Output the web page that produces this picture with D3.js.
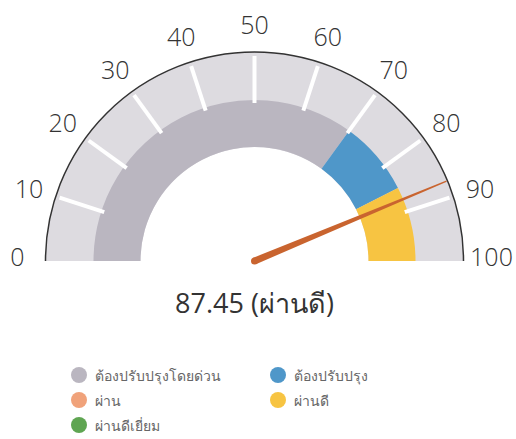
<!DOCTYPE html>
<html>
<head>
<meta charset="utf-8">
<script src="https://cdn.jsdelivr.net/npm/d3@7"></script>
<style>
  body { margin: 0; background: #fff; }
  text { font-family: "Open Sans", "Noto Sans", sans-serif; }
</style>
</head>
<body>
<div id="gauge"></div>
<script>
// Gauge data
const gaugeValue = 87.45;
const gaugeLabel = "ผ่านดี";
const bandNames = ["ต้องปรับปรุงโดยด่วน", "ต้องปรับปรุง", "ผ่าน", "ผ่านดี", "ผ่านดีเยี่ยม"];
const bandFrom = [0, 70, 85, 85, 100];
const bandTo = [70, 85, 85, 100, 100];
const bandColors = ["#bab6c0", "#4f97c9", "#f0a27a", "#f7c442", "#5fa552"];
const tickValues = [0, 10, 20, 30, 40, 50, 60, 70, 80, 90, 100];

const width = 516;
const height = 439;
const cx = 254.5, cy = 261;
const rOuter = 209, rBandOut = 161, rBandIn = 114;

const svg = d3.select("#gauge")
  .append("svg")
  .attr("width", width)
  .attr("height", height);

// value -> angle (d3.arc convention, 0 = up, clockwise)
const angle = d3.scaleLinear()
  .domain([0, 100])
  .range([-Math.PI / 2, Math.PI / 2]);

const g = svg.append("g").attr("transform", `translate(${cx},${cy})`);

// background
g.append("path")
  .attr("d", d3.arc()({innerRadius: rBandIn, outerRadius: rOuter,
    startAngle: angle(0), endAngle: angle(100)}))
  .attr("fill", "#dddbe0");

// bands
const bands = bandNames.map((n, i) => ({name: n, from: bandFrom[i], to: bandTo[i], color: bandColors[i]}));
g.selectAll("path.band")
  .data(bands.filter(d => d.to > d.from))
  .enter()
  .append("path")
  .attr("class", "band")
  .attr("d", d => d3.arc()({innerRadius: rBandIn, outerRadius: rBandOut,
    startAngle: angle(d.from), endAngle: angle(d.to)}))
  .attr("fill", d => d.color);

// white tick marks
const pt = (v, r) => [r * Math.sin(angle(v)), -r * Math.cos(angle(v))];
g.selectAll("line.tick")
  .data(tickValues.filter(v => v > 0 && v < 100))
  .enter()
  .append("line")
  .attr("x1", d => pt(d, 158)[0])
  .attr("y1", d => pt(d, 158)[1])
  .attr("x2", d => pt(d, 205)[0])
  .attr("y2", d => pt(d, 205)[1])
  .attr("stroke", "#fff")
  .attr("stroke-width", 4);

// outer border
g.append("path")
  .attr("d", d3.arc()({innerRadius: rOuter, outerRadius: rOuter,
    startAngle: angle(0), endAngle: angle(100)}))
  .attr("fill", "none")
  .attr("stroke", "#333")
  .attr("stroke-width", 1.5);

// tick labels
g.selectAll("text.lbl")
  .data(tickValues)
  .enter()
  .append("text")
  .attr("x", d => pt(d, 237)[0])
  .attr("y", d => pt(d, 237)[1] - (d === 0 || d === 100 ? 5 : 0))
  .attr("text-anchor", "middle")
  .attr("dominant-baseline", "central")
  .attr("font-size", 25)
  .attr("font-weight", 300)
  .attr("fill", "#333")
  .text(d => d);

// needle (tapered)
const a = angle(gaugeValue);
const tip = pt(gaugeValue, 208);
const nx = Math.cos(a), ny = Math.sin(a);
const baseW = 3.5, tipW = 0.6;
const needle = [
  [nx * baseW, ny * baseW],
  [tip[0] + nx * tipW, tip[1] + ny * tipW],
  [tip[0] - nx * tipW, tip[1] - ny * tipW],
  [-nx * baseW, -ny * baseW]
];
g.append("path")
  .attr("d", d3.line()(needle) + "Z")
  .attr("fill", "#c9642f");
g.append("circle")
  .attr("r", baseW)
  .attr("fill", "#c9642f");

// value text
svg.append("text")
  .attr("x", cx)
  .attr("y", 313)
  .attr("text-anchor", "middle")
  .attr("font-size", 27)
  .attr("fill", "#333")
  .text(gaugeValue + " (" + gaugeLabel + ")");

// legend
const legend = svg.selectAll("g.legend")
  .data(bands)
  .enter()
  .append("g")
  .attr("class", "legend")
  .attr("transform", (d, i) => `translate(${i % 2 === 0 ? 79 : 278},${375 + Math.floor(i / 2) * 25})`);

legend.append("circle")
  .attr("r", 8)
  .attr("fill", d => d.color);

legend.append("text")
  .attr("x", 16)
  .attr("dominant-baseline", "central")
  .attr("font-size", 14)
  .attr("fill", "#666")
  .text(d => d.name);
</script>
</body>
</html>
